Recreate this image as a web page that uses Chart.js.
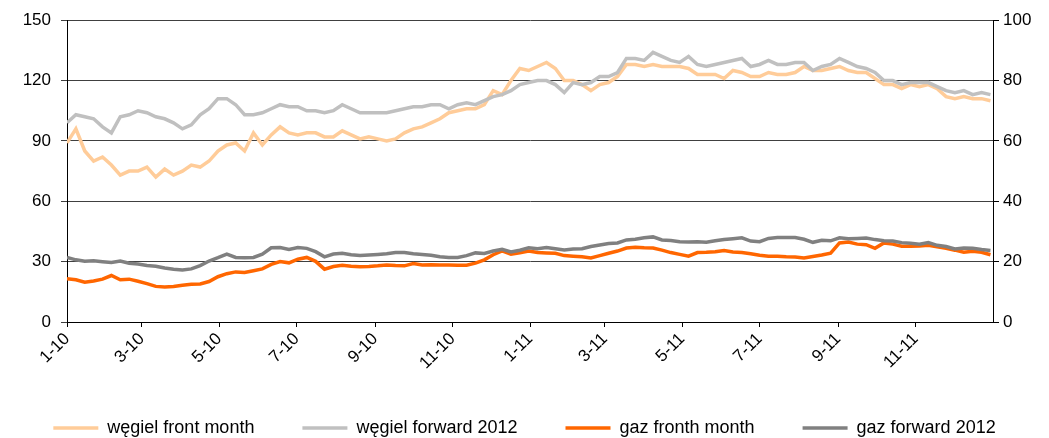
<!DOCTYPE html>
<html>
<head>
<meta charset="utf-8">
<script src="https://cdn.jsdelivr.net/npm/chart.js@4.4.0/dist/chart.umd.min.js"></script>
<style>
html, body { margin: 0; padding: 0; background: #fff; }
#wrap { width: 1049px; height: 438px; }
</style>
</head>
<body>
<div id="wrap"><canvas id="myChart"></canvas></div>
<script>
// weekly quotes, 2010-2011
const seriesNames = ['węgiel front month', 'węgiel forward 2012', 'gaz fronth month', 'gaz forward 2012'];

// coal, left axis
const wegielFront = [
	89, 96, 85, 80, 82, 78, 73, 75, 75, 77, 72, 76, 73, 75, 78, 77, 80, 85,
	88, 89, 85, 94, 88, 93, 97, 94, 93, 94, 94, 92, 92, 95, 93, 91, 92, 91,
	90, 91, 94, 96, 97, 99, 101, 104, 105, 106, 106, 108, 115, 113, 120, 126, 125, 127,
	129, 126, 120, 120, 118, 115, 118, 119, 122, 128, 128, 127, 128, 127, 127, 127, 126, 123,
	123, 123, 121, 125, 124, 122, 122, 124, 123, 123, 124, 127, 125, 125, 126, 127, 125, 124,
	124, 121, 118, 118, 116, 118, 117, 118, 116, 112, 111, 112, 111, 111, 110
];
const wegielForward = [
	99, 103, 102, 101, 97, 94, 102, 103, 105, 104, 102, 101, 99, 96, 98, 103, 106, 111,
	111, 108, 103, 103, 104, 106, 108, 107, 107, 105, 105, 104, 105, 108, 106, 104, 104, 104,
	104, 105, 106, 107, 107, 108, 108, 106, 108, 109, 108, 110, 112, 113, 115, 118, 119, 120,
	120, 118, 114, 119, 118, 119, 122, 122, 124, 131, 131, 130, 134, 132, 130, 129, 132, 128,
	127, 128, 129, 130, 131, 127, 128, 130, 128, 128, 129, 129, 125, 127, 128, 131, 129, 127,
	126, 124, 120, 120, 118, 119, 119, 119, 117, 115, 114, 115, 113, 114, 113
];

// gas, right axis
const gazFront = [
	14.3, 14, 13.2, 13.6, 14.2, 15.4, 14, 14.2, 13.5, 12.7, 11.8, 11.6, 11.8, 12.2, 12.5, 12.6, 13.4, 15,
	16, 16.6, 16.4, 17, 17.6, 19.1, 20, 19.6, 20.8, 21.4, 20.1, 17.5, 18.4, 18.8, 18.5, 18.3, 18.4, 18.6,
	18.9, 18.7, 18.6, 19.4, 18.9, 19, 18.9, 18.9, 18.8, 18.8, 19.5, 20.6, 22.3, 23.6, 22.5, 22.9, 23.5, 23,
	22.9, 22.8, 22, 21.8, 21.6, 21.2, 22, 22.8, 23.5, 24.5, 24.8, 24.6, 24.5, 23.8, 23, 22.4, 21.8, 23,
	23.1, 23.3, 23.7, 23.2, 23, 22.6, 22.1, 21.8, 21.8, 21.6, 21.5, 21.2, 21.7, 22.2, 22.8, 26.2, 26.5, 25.8,
	25.6, 24.4, 26.2, 25.8, 25.1, 25.1, 25.2, 25.4, 24.9, 24.4, 23.8, 23.1, 23.4, 23.1, 22.3
];
const gazForward = [
	21.4, 20.6, 20.1, 20.3, 20, 19.7, 20.2, 19.5, 19.2, 18.7, 18.5, 17.9, 17.5, 17.2, 17.6, 18.7, 20.2, 21.3,
	22.5, 21.4, 21.3, 21.4, 22.5, 24.6, 24.7, 24, 24.7, 24.4, 23.3, 21.6, 22.5, 22.8, 22.3, 22, 22.2, 22.4,
	22.6, 23, 23, 22.6, 22.4, 22.1, 21.6, 21.4, 21.4, 22, 22.9, 22.7, 23.5, 24.1, 23.2, 23.8, 24.6, 24.3,
	24.7, 24.3, 23.9, 24.2, 24.3, 25, 25.5, 26, 26.2, 27.2, 27.4, 27.9, 28.2, 27.2, 27, 26.6, 26.5, 26.6,
	26.4, 26.9, 27.3, 27.6, 27.9, 26.8, 26.6, 27.7, 28, 28, 28, 27.4, 26.4, 27.1, 26.9, 27.9, 27.6, 27.7,
	27.8, 27.3, 26.9, 26.8, 26.3, 26.1, 25.8, 26.3, 25.4, 25, 24.2, 24.5, 24.4, 24, 23.7
];

const tickLabels = ['1-10', '3-10', '5-10', '7-10', '9-10', '11-10', '1-11', '3-11', '5-11', '7-11', '9-11', '11-11'];

const colors = ['#FFCC99', '#C0C0C0', '#FF6600', '#808080'];

// days since 1 Jan 2010
const DAY = 86400000;
const start = Date.UTC(2010, 0, 1);
const tickDays = tickLabels.map(function (t) {
	const p = t.split('-');
	return (Date.UTC(2000 + Number(p[1]), Number(p[0]) - 1, 1) - start) / DAY;
});

function toPoints(values) {
	return values.map(function (v, i) { return { x: i * 7, y: v }; });
}

Chart.defaults.font.family = '"Liberation Sans", Arial, sans-serif';
Chart.defaults.font.size = 17;
Chart.defaults.color = '#000';

const allSeries = [wegielFront, wegielForward, gazFront, gazForward];
const axisOf = ['y', 'y', 'y1', 'y1'];

const ctx = document.getElementById('myChart');

const myChart = new Chart(ctx, {
	type: 'line',
	data: {
		datasets: allSeries.map(function (s, i) {
			return {
				label: seriesNames[i],
				data: toPoints(s),
				yAxisID: axisOf[i],
				borderColor: colors[i],
				backgroundColor: colors[i],
				borderWidth: 3.5,
				pointRadius: 0,
				tension: 0,
				order: 3 - i
			};
		})
	},
	options: {
		responsive: true,
		maintainAspectRatio: false,
		animation: false,
		layout: { padding: { top: 18, left: 0, right: 0, bottom: 0 } },
		scales: {
			x: {
				type: 'linear',
				min: 0,
				max: 730,
				afterBuildTicks: function (scale) {
					scale.ticks = tickDays.map(function (d) { return { value: d }; });
				},
				afterFit: function (scale) {
					scale.height = 49;
				},
				ticks: {
					autoSkip: false,
					minRotation: 45,
					maxRotation: 45,
					padding: 2,
					callback: function (value) {
						return tickLabels[tickDays.indexOf(value)];
					}
				},
				grid: { drawOnChartArea: false, color: '#000', tickLength: 5 },
				border: { color: '#000', width: 1 }
			},
			y: {
				position: 'left',
				min: 0,
				max: 150,
				afterFit: function (scale) {
					scale.width = 67;
				},
				ticks: { stepSize: 30, padding: 10 },
				grid: { color: '#404040', tickLength: 6 },
				border: { color: '#000', width: 1 }
			},
			y1: {
				position: 'right',
				min: 0,
				max: 100,
				afterFit: function (scale) {
					scale.width = 56;
				},
				ticks: { stepSize: 20, padding: 4 },
				grid: { drawOnChartArea: false, color: '#000', tickLength: 6 },
				border: { color: '#000', width: 1 }
			}
		},
		plugins: {
			legend: {
				position: 'bottom',
				maxHeight: 67,
				labels: {
					usePointStyle: true,
					pointStyle: 'line',
					pointStyleWidth: 45,
					padding: 48,
					color: '#000',
					font: { size: 18 },
					sort: function (a, b) { return a.datasetIndex - b.datasetIndex; }
				}
			},
			tooltip: { enabled: false }
		}
	}
});
</script>
</body>
</html>
